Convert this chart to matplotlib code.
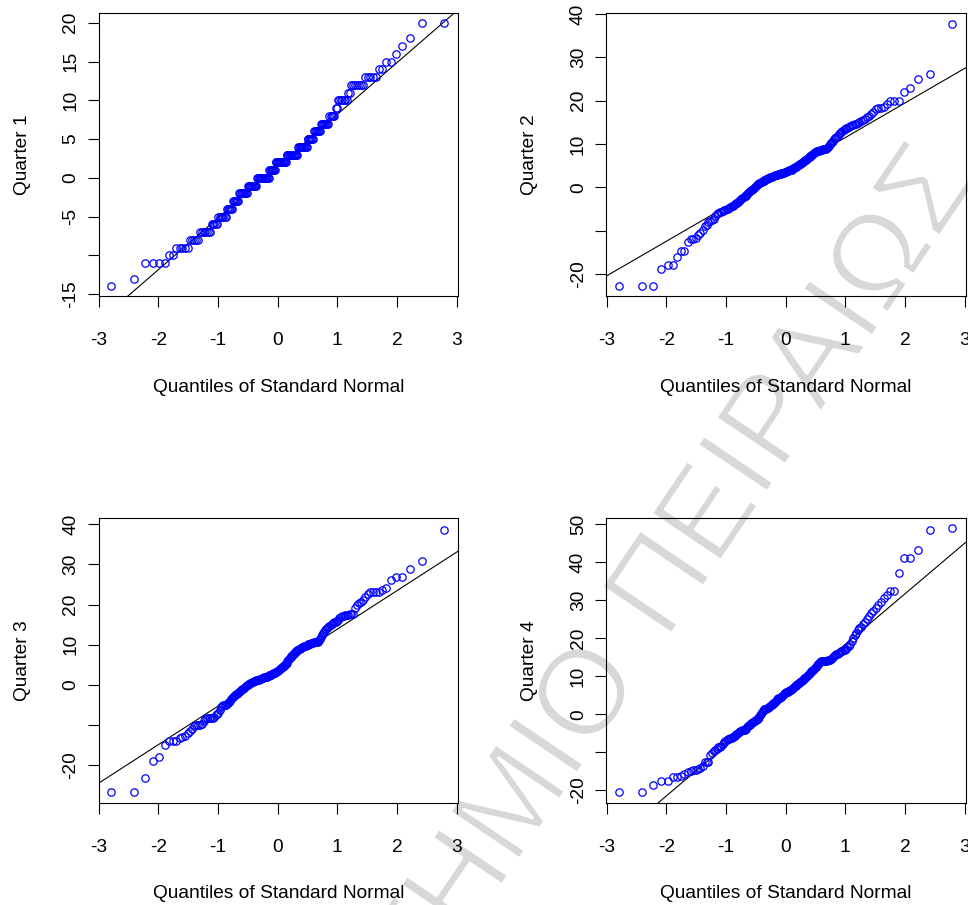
import numpy as np
import matplotlib
matplotlib.use("Agg")
import matplotlib.pyplot as plt
import matplotlib.patheffects as pe
from statistics import NormalDist

# ---------------- data (sorted sample values) ----------------
quarter1 = [-14, -13, -11, -11, -11, -11, -10, -10, -9, -9,
            -9, -9, -9, -8, -8, -8, -8, -8, -7, -7,
            -7, -7, -7, -7, -7, -6, -6, -6, -6, -6,
            -5, -5, -5, -5, -5, -5, -5, -4, -4, -4,
            -4, -4, -4, -3, -3, -3, -3, -3, -3, -2,
            -2, -2, -2, -2, -2, -2, -2, -2, -1, -1,
            -1, -1, -1, -1, -1, -1, -1, -1, -1, 0,
            0, 0, 0, 0, 0, 0, 0, 0, 0, 0,
            0, 0, 0, 0, 1, 1, 1, 1, 1, 1,
            1, 1, 2, 2, 2, 2, 2, 2, 2, 2,
            2, 2, 2, 2, 2, 2, 3, 3, 3, 3,
            3, 3, 3, 3, 3, 3, 3, 3, 3, 3,
            4, 4, 4, 4, 4, 4, 4, 4, 4, 4,
            4, 5, 5, 5, 5, 5, 5, 5, 6, 6,
            6, 6, 6, 6, 6, 7, 7, 7, 7, 7,
            7, 7, 7, 8, 8, 8, 8, 8, 9, 9,
            10, 10, 10, 10, 10, 10, 10, 11, 11, 12,
            12, 12, 12, 12, 12, 12, 13, 13, 13, 13,
            13, 14, 14, 15, 15, 16, 17, 18, 20, 20]

quarter2 = [-22.7, -22.7, -22.7, -18.9, -17.9, -17.9, -16.0, -14.6, -14.6, -12.7,
            -11.9, -11.9, -11.7, -11.0, -10.5, -9.9, -9.0, -8.6, -8.0, -7.8,
            -7.5, -7.2, -6.6, -6.2, -5.8, -5.7, -5.6, -5.4, -5.3, -5.2,
            -5.0, -4.9, -4.7, -4.5, -4.3, -4.2, -4.0, -3.9, -3.7, -3.6,
            -3.4, -3.2, -2.9, -2.6, -2.4, -2.2, -2.0, -1.9, -1.7, -1.5,
            -1.3, -1.1, -0.9, -0.7, -0.5, -0.3, -0.1, 0.1, 0.3, 0.5,
            0.7, 0.8, 0.9, 1.0, 1.2, 1.3, 1.4, 1.5, 1.7, 1.8,
            1.9, 2.0, 2.1, 2.2, 2.2, 2.3, 2.4, 2.5, 2.6, 2.6,
            2.7, 2.8, 2.8, 2.9, 2.9, 3.0, 3.1, 3.1, 3.2, 3.3,
            3.3, 3.4, 3.4, 3.5, 3.5, 3.6, 3.7, 3.8, 3.8, 3.9,
            4.0, 4.0, 4.1, 4.3, 4.4, 4.5, 4.6, 4.7, 4.8, 4.9,
            5.1, 5.2, 5.3, 5.5, 5.6, 5.7, 5.9, 6.0, 6.1, 6.3,
            6.4, 6.6, 6.7, 6.9, 7.0, 7.2, 7.4, 7.5, 7.7, 7.9,
            8.1, 8.2, 8.3, 8.4, 8.5, 8.5, 8.6, 8.7, 8.7, 8.8,
            8.8, 8.9, 8.9, 9.1, 9.3, 9.6, 9.9, 10.2, 10.5, 10.8,
            11.1, 11.4, 11.6, 11.9, 12.2, 12.5, 12.8, 13.0, 13.2, 13.5,
            13.7, 13.8, 14.0, 14.1, 14.3, 14.5, 14.6, 14.7, 14.9, 15.0,
            15.2, 15.5, 15.8, 16.2, 16.5, 16.9, 17.3, 18.0, 18.2, 18.4,
            18.6, 19.3, 20.0, 20.0, 20.0, 21.9, 22.9, 25.0, 26.1, 37.8]

quarter3 = [-26.7, -26.7, -23.1, -19.0, -17.8, -15.0, -14.0, -14.0, -14.0, -13.1,
            -12.9, -12.8, -11.9, -11.5, -11.0, -10.2, -10.0, -10.0, -10.0, -9.8,
            -9.0, -8.5, -8.3, -8.2, -8.1, -8.1, -8.1, -8.0, -7.5, -7.1,
            -6.9, -6.2, -5.5, -5.2, -5.1, -5.0, -4.9, -4.8, -4.6, -4.3,
            -4.0, -3.6, -3.3, -3.0, -2.7, -2.5, -2.3, -2.2, -2.0, -1.8,
            -1.6, -1.3, -1.1, -0.9, -0.7, -0.5, -0.3, -0.1, 0.1, 0.2,
            0.3, 0.4, 0.5, 0.7, 0.8, 0.9, 1.0, 1.1, 1.2, 1.2,
            1.3, 1.3, 1.4, 1.5, 1.6, 1.7, 1.8, 1.9, 2.0, 2.0,
            2.1, 2.1, 2.2, 2.3, 2.4, 2.5, 2.6, 2.7, 2.8, 2.9,
            3.0, 3.1, 3.2, 3.3, 3.5, 3.6, 3.8, 3.9, 4.1, 4.2,
            4.4, 4.5, 4.7, 4.9, 5.1, 5.3, 5.6, 5.9, 6.2, 6.4,
            6.7, 6.9, 7.1, 7.3, 7.6, 7.8, 8.1, 8.3, 8.5, 8.6,
            8.8, 8.9, 9.0, 9.2, 9.3, 9.4, 9.5, 9.6, 9.7, 9.8,
            9.9, 10.0, 10.1, 10.2, 10.3, 10.4, 10.5, 10.5, 10.6, 10.6,
            10.7, 10.7, 10.8, 11.1, 11.5, 12.0, 12.4, 12.9, 13.3, 13.7,
            14.0, 14.3, 14.5, 14.8, 15.0, 15.2, 15.4, 15.6, 15.8, 15.9,
            16.2, 16.6, 17.0, 17.2, 17.3, 17.4, 17.4, 17.5, 17.6, 17.7,
            17.8, 19.2, 20.0, 20.3, 20.7, 21.2, 21.8, 22.6, 23.1, 23.1,
            23.1, 23.1, 23.6, 24.1, 26.2, 26.8, 26.8, 28.9, 30.9, 38.6]

quarter4 = [-20.4, -20.4, -18.5, -17.6, -17.6, -16.4, -16.4, -16.2, -15.8, -15.3,
            -14.8, -14.7, -14.7, -14.5, -14.2, -13.5, -12.5, -12.5, -12.5, -10.8,
            -10.2, -9.6, -9.3, -9.0, -8.7, -8.5, -8.2, -7.8, -7.4, -7.0,
            -6.8, -6.6, -6.4, -6.3, -6.1, -6.0, -5.8, -5.6, -5.3, -5.1,
            -4.9, -4.7, -4.5, -4.4, -4.2, -4.1, -4.0, -3.9, -3.6, -3.4,
            -3.1, -2.9, -2.7, -2.4, -2.2, -2.0, -1.8, -1.7, -1.5, -1.3,
            -1.2, -1.0, -0.6, -0.2, 0.2, 0.6, 1.0, 1.2, 1.3, 1.4,
            1.5, 1.7, 1.8, 1.9, 2.0, 2.2, 2.4, 2.5, 2.7, 2.9,
            3.1, 3.3, 3.6, 3.9, 4.1, 4.2, 4.3, 4.4, 4.5, 4.7,
            4.9, 5.1, 5.3, 5.5, 5.7, 5.8, 5.9, 6.0, 6.1, 6.2,
            6.3, 6.5, 6.6, 6.8, 7.0, 7.2, 7.4, 7.5, 7.7, 7.9,
            8.0, 8.2, 8.4, 8.5, 8.7, 8.9, 9.1, 9.3, 9.5, 9.7,
            9.9, 10.1, 10.3, 10.6, 10.8, 11.0, 11.3, 11.5, 11.7, 12.0,
            12.2, 12.5, 12.8, 13.0, 13.3, 13.6, 13.8, 14.0, 14.0, 14.0,
            14.0, 14.1, 14.1, 14.1, 14.2, 14.3, 14.4, 14.6, 14.8, 15.1,
            15.4, 15.7, 15.9, 16.0, 16.2, 16.4, 16.6, 16.8, 16.9, 17.0,
            17.2, 17.6, 18.0, 18.4, 19.4, 20.1, 20.8, 21.5, 22.1, 22.6,
            23.0, 23.7, 24.4, 25.2, 25.9, 26.6, 27.2, 28.0, 28.7, 29.5,
            30.5, 31.4, 32.4, 32.4, 37.2, 41.2, 41.2, 43.2, 48.4, 49.1]

series = [quarter1, quarter2, quarter3, quarter4]
y_titles = ["Quarter 1", "Quarter 2", "Quarter 3", "Quarter 4"]
x_title = "Quantiles of Standard Normal"
x_ticks = [-3, -2, -1, 0, 1, 2, 3]
y_ticks = [[-15, -10, -5, 0, 5, 10, 15, 20],
           [-20, -10, 0, 10, 20, 30, 40],
           [-20, -10, 0, 10, 20, 30, 40],
           [-20, -10, 0, 10, 20, 30, 40, 50]]
y_tick_labels = [["-15", "", "-5", "0", "5", "10", "15", "20"],
                 ["-20", "", "0", "10", "20", "30", "40"],
                 ["-20", "", "0", "10", "20", "30", "40"],
                 ["-20", "", "0", "10", "20", "30", "40", "50"]]
watermark_a = "ΠΑΝΕΠΙΣΤΗΜΙΟ"
watermark_b = "ΠΕΙΡΑΙΩΣ"

# ---------------- layout ----------------
W, H = 968, 905
plt.rcParams['font.family'] = ['Liberation Sans', 'DejaVu Sans']
FS = 13.8

fig = plt.figure(figsize=(W / 100, H / 100), dpi=100)
fig.patch.set_facecolor('white')

def fx(x):
    return x / W

def fy(y):
    return 1 - y / H

# boxes in pixels: left, top, right, bottom
boxes = [(98.7, 12.7, 458.3, 296.0), (606.3, 12.7, 965.7, 296.0),
         (98.7, 518.3, 458.3, 802.7), (606.3, 518.3, 965.7, 802.7)]
xlims = [(-3.0, 3.03), (-3.01, 3.02), (-3.0, 3.03), (-3.01, 3.02)]
ylims = [(-15.24, 21.3), (-25.06, 40.3), (-29.3, 41.5), (-23.25, 51.6)]

nd = NormalDist()
for k in range(4):
    l, t, r, b = boxes[k]
    ax = fig.add_axes([fx(l), fy(b), (r - l) / W, (b - t) / H])
    ax.patch.set_visible(False)
    y = np.array(series[k], dtype=float)
    n = len(y)
    z = np.array([nd.inv_cdf((i + 0.5) / n) for i in range(n)])
    ax.plot(z, y, 'o', mfc='none', mec='#0000ff', ms=5.3, mew=0.9, zorder=3)
    # quartile reference line
    q1, q3 = np.quantile(y, [0.25, 0.75])
    z1, z3 = nd.inv_cdf(0.25), nd.inv_cdf(0.75)
    slope = (q3 - q1) / (z3 - z1)
    icpt = q1 - slope * z1
    xl = np.array(xlims[k])
    ax.plot(xl, icpt + slope * xl, color='black', lw=0.8, zorder=2)
    ax.set_xlim(*xlims[k])
    ax.set_ylim(*ylims[k])
    ax.set_xticks(x_ticks)
    ax.set_xticklabels([str(v) for v in x_ticks], fontsize=FS)
    ax.set_yticks(y_ticks[k])
    ax.set_yticklabels(y_tick_labels[k], fontsize=FS, rotation=90, va='center')
    ax.tick_params(axis='x', direction='out', length=8, width=0.8, pad=18)
    ax.tick_params(axis='y', direction='out', length=8, width=0.8, pad=6)
    for s in ax.spines.values():
        s.set_linewidth(0.8)
    # axis titles
    cx = (l + r) / 2
    cy = (t + b) / 2
    fig.text(fx(cx), fy(b + 95.7), x_title, fontsize=FS, ha='center', va='baseline')
    fig.text(fx(l - 72), fy(cy), y_titles[k], fontsize=FS, rotation=90,
             rotation_mode='anchor', ha='center', va='baseline')

# watermark (behind everything), light-gray letters
ang = 56
thin = [pe.Normal(), pe.Stroke(linewidth=2.2, foreground='white')]
fig.text(fx(666), fy(642), watermark_b, fontsize=88, color='#d8d8d8',
         rotation=ang, rotation_mode='anchor', ha='left', va='baseline',
         zorder=-1, path_effects=thin)
fig.text(fx(643), fy(676), watermark_a, fontsize=88, color='#d8d8d8',
         rotation=ang, rotation_mode='anchor', ha='right', va='baseline',
         zorder=-1, path_effects=thin)

fig.savefig('out.png', dpi=100, facecolor='white')
